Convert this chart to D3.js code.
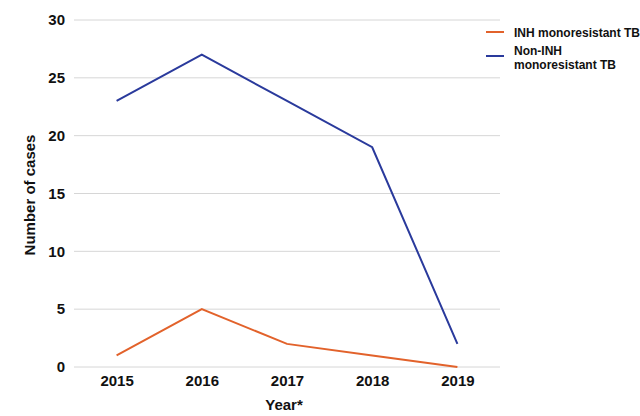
<!DOCTYPE html>
<html><head><meta charset="utf-8">
<script src="https://cdn.jsdelivr.net/npm/d3@7"></script>
<style>body{margin:0;background:#fff}text{font-family:"Liberation Sans",Arial,sans-serif;font-weight:bold;fill:#111}</style>
</head><body><svg id="c" width="640" height="416"></svg>
<script>
const years = ["2015","2016","2017","2018","2019"];
const inhValues = [1, 5, 2, 1, 0];
const nonInhValues = [23, 27, 23, 19, 2];
const yTicks = [0, 5, 10, 15, 20, 25, 30];
const seriesNames = ["INH monoresistant TB", "Non-INH monoresistant TB"];
const colors = ["#e2622b", "#2a3a9c"];

(function () {
const svg = d3.select("#c");
const mLeft = 74, mRight = 500, mTop = 20, mBottom = 367;
const x = d3.scalePoint().domain(years).range([mLeft, mRight]).padding(0.5);
const y = d3.scaleLinear().domain([0, 30]).range([mBottom, mTop]);

svg.append("g").selectAll("line").data(yTicks).join("line")
  .attr("x1", mLeft).attr("x2", mRight)
  .attr("y1", d => y(d)).attr("y2", d => y(d))
  .attr("stroke", "#d6d6d6").attr("stroke-width", 1);

const fontCss = "'Liberation Sans',Arial,sans-serif";
const yAxis = svg.append("g").attr("transform", `translate(${mLeft},0)`)
  .call(d3.axisLeft(y).tickValues(yTicks).tickSize(0).tickPadding(9));
yAxis.select(".domain").remove();
yAxis.selectAll("text").style("font-size", "15px").style("font-family", fontCss).style("font-weight", "bold").attr("fill", "#111");

const xAxis = svg.append("g").attr("transform", `translate(0,${mBottom})`)
  .call(d3.axisBottom(x).tickSize(0).tickPadding(8));
xAxis.select(".domain").remove();
xAxis.selectAll("text").style("font-size", "15px").style("font-family", fontCss).style("font-weight", "bold").attr("fill", "#111");

const line = d3.line().x((d, i) => x(years[i])).y(d => y(d));
[inhValues, nonInhValues].forEach((vals, k) => {
  svg.append("path").datum(vals).attr("d", line)
    .attr("fill", "none").attr("stroke", colors[k]).attr("stroke-width", 2).attr("stroke-linejoin", "miter");
});

svg.append("text").attr("x", 284).attr("y", 410).attr("text-anchor", "middle")
  .style("font-size", "15px").text("Year*");
svg.append("text").attr("transform", "translate(35,195) rotate(-90)").attr("text-anchor", "middle")
  .style("font-size", "15px").text("Number of cases");

const lg = svg.append("g");
lg.append("line").attr("x1", 486).attr("x2", 504).attr("y1", 32).attr("y2", 32).attr("stroke", colors[0]).attr("stroke-width", 2);
lg.append("text").attr("x", 514).attr("y", 37).style("font-size", "12px").text(seriesNames[0]);
lg.append("line").attr("x1", 486).attr("x2", 504).attr("y1", 56).attr("y2", 56).attr("stroke", colors[1]).attr("stroke-width", 2);
const t2 = lg.append("text").attr("x", 514).attr("y", 55).style("font-size", "12px");
t2.append("tspan").attr("x", 514).attr("dy", 0).text("Non-INH");
t2.append("tspan").attr("x", 514).attr("dy", 14).text("monoresistant TB");
})();
</script></body></html>
